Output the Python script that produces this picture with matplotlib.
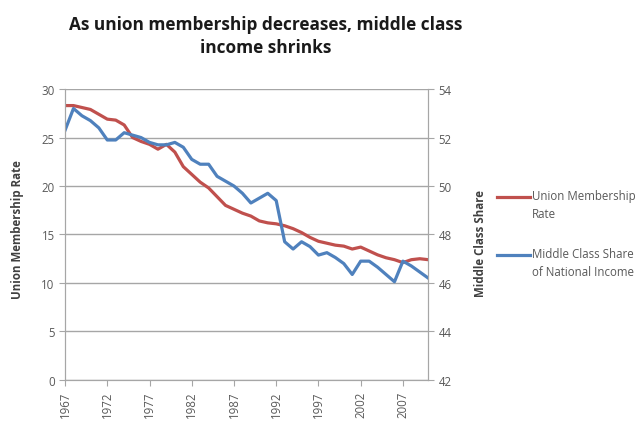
import matplotlib
matplotlib.use("Agg")
import matplotlib.pyplot as plt
from matplotlib.lines import Line2D

# Données
annees = list(range(1967, 2011))
taux_syndicalisation = [
    28.3, 28.3, 28.1, 27.9, 27.4, 26.9, 26.8, 26.3, 25.0, 24.6,
    24.3, 23.8, 24.3, 23.5, 22.0, 21.2, 20.4, 19.8, 18.9, 18.0,
    17.6, 17.2, 16.9, 16.4, 16.2, 16.1, 15.9, 15.6, 15.2, 14.7,
    14.3, 14.1, 13.9, 13.8, 13.5, 13.7, 13.3, 12.9, 12.6, 12.4,
    12.1, 12.4, 12.5, 12.4,
]
part_classe_moyenne = [
    52.3, 53.2, 52.9, 52.7, 52.4, 51.9, 51.9, 52.2, 52.1, 52.0,
    51.8, 51.7, 51.7, 51.8, 51.6, 51.1, 50.9, 50.9, 50.4, 50.2,
    50.0, 49.7, 49.3, 49.5, 49.7, 49.4, 47.7, 47.4, 47.7, 47.5,
    47.15, 47.25, 47.05, 46.8, 46.35, 46.9, 46.9, 46.65, 46.35, 46.05,
    46.9, 46.7, 46.45, 46.2,
]
ticks_annees = list(range(1967, 2008, 5))
legende = ["Union Membership\nRate", "Middle Class Share\nof National Income"]

rouge = "#C0504D"
bleu = "#4F81BD"
gris = "#595959"
police = "Open Sans"

fig = plt.figure(figsize=(6.44, 4.27), dpi=100)
ax = fig.add_axes([0.101, 0.108, 0.564, 0.681])
ax2 = ax.twinx()

ax.plot(annees, taux_syndicalisation, color=rouge, lw=2.3)
ax2.plot(annees, part_classe_moyenne, color=bleu, lw=2.3)

ax.set_xlim(1967, 2010)
ax.set_ylim(0, 30)
ax.set_yticks(range(0, 31, 5))
ax2.set_ylim(42, 54)
ax2.set_yticks(range(42, 55, 2))
ax.set_xticks(ticks_annees)
ax.set_xticklabels([str(a) for a in ticks_annees], rotation=90)

ax.yaxis.grid(True, color="#A6A6A6", lw=1)
ax.set_axisbelow(True)

for a in (ax, ax2):
    for s in a.spines.values():
        s.set_color("#A6A6A6")
    a.spines["top"].set_visible(False)
    a.tick_params(colors="#A6A6A6", labelcolor=gris, labelsize=8.3, length=4)
    for lab in a.get_xticklabels() + a.get_yticklabels():
        lab.set_family(police)

ax.set_ylabel("Union Membership Rate", fontsize=8.3, fontweight="bold",
              family=police, color="#404040")
ax.yaxis.set_label_coords(-0.112, 0.519)
ax2.set_ylabel("Middle Class Share", fontsize=8.3, fontweight="bold",
               family=police, color="#404040")
ax2.yaxis.set_label_coords(1.125, 0.474)

fig.suptitle("As union membership decreases, middle class\nincome shrinks",
             x=0.413, y=0.963, fontsize=12.4, fontweight="bold",
             family=police, color="#1a1a1a", linespacing=1.35)

# Légende à la manière d'Excel : le trait aligné sur la première ligne
for (couleur, texte, y) in [(rouge, legende[0], 1 - 198 / 427),
                            (bleu, legende[1], 1 - 256 / 427)]:
    fig.add_artist(Line2D([497 / 644, 530 / 644], [y, y], color=couleur,
                          lw=2.3, transform=fig.transFigure))
    fig.text(532 / 644, y + 0.018, texte, family=police, fontsize=8.3,
             color=gris, va="top", ha="left", linespacing=1.45)

fig.savefig("out.png", dpi=100)
